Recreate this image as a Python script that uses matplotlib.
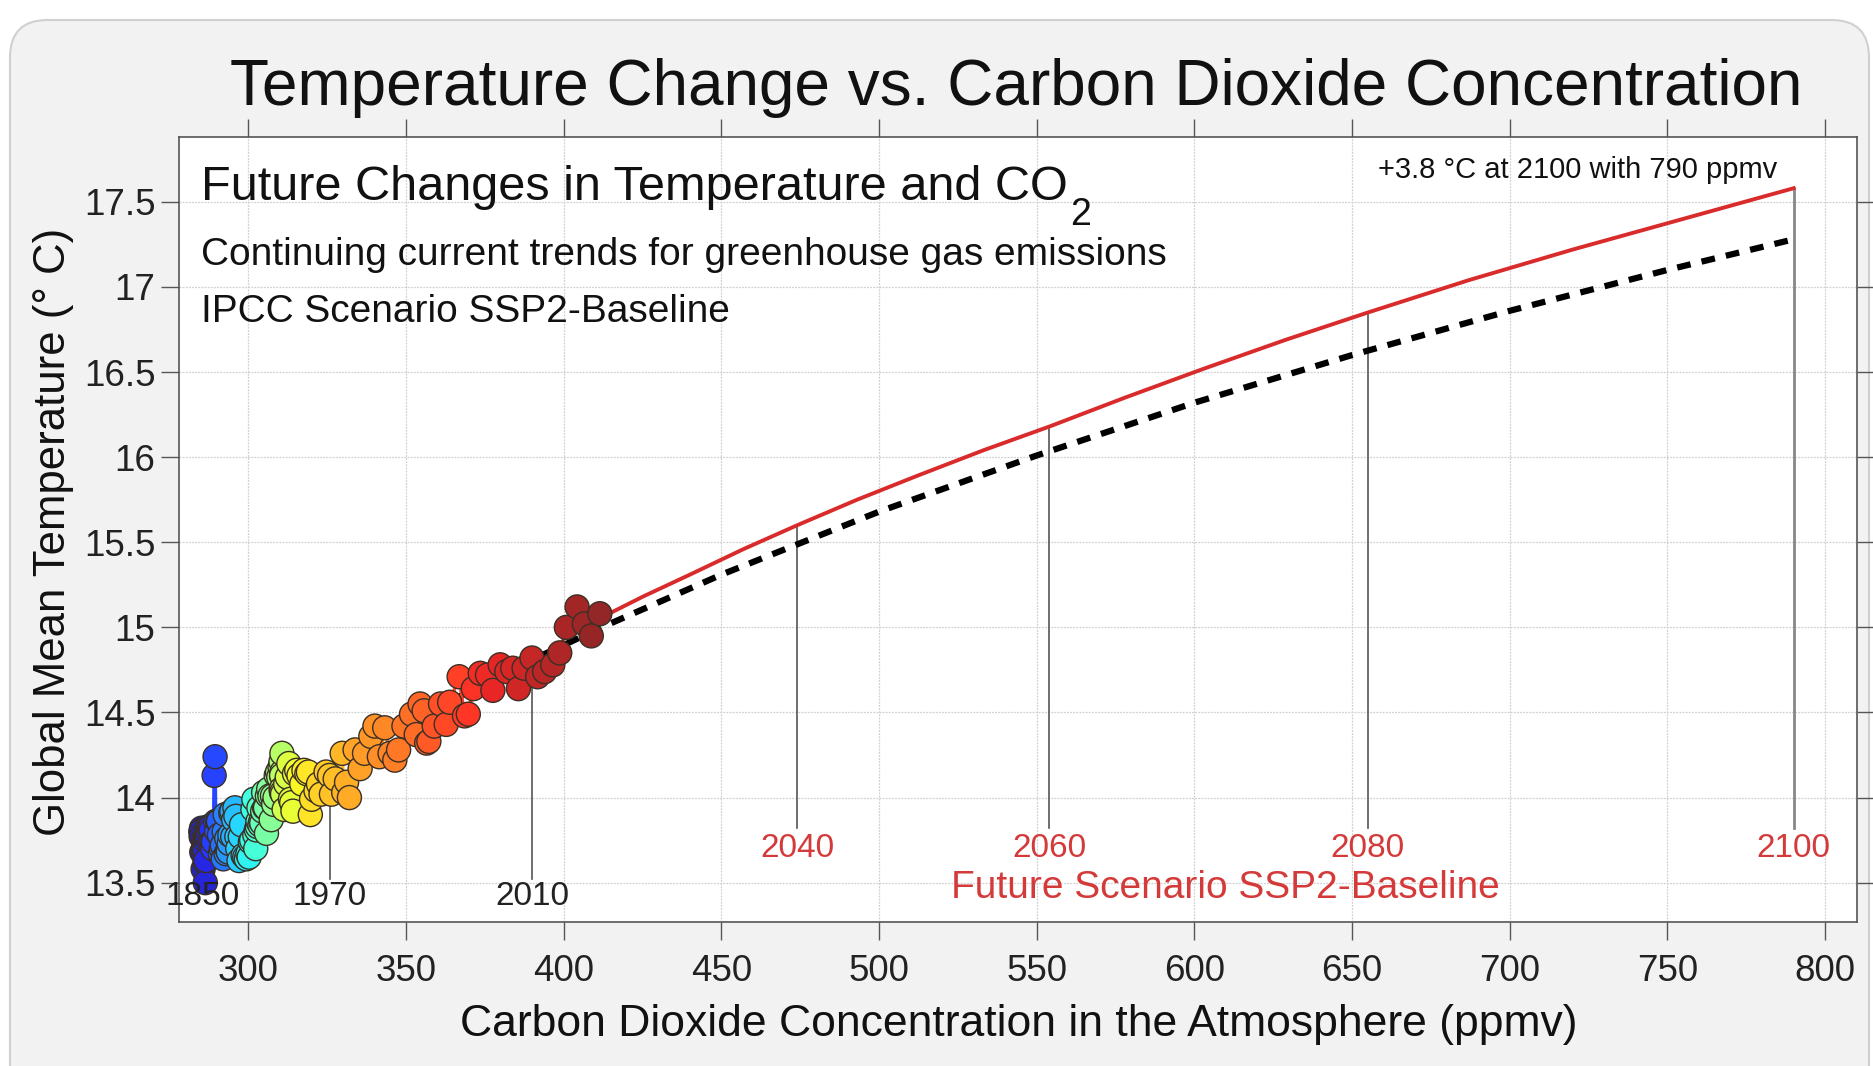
import numpy as np
import matplotlib
matplotlib.use('Agg')
import matplotlib.pyplot as plt
from matplotlib.collections import LineCollection
from matplotlib.patches import FancyBboxPatch

plt.rcParams['font.family'] = ['Liberation Sans', 'DejaVu Sans']

# ---------------- data ----------------
first_year = 1850
co2_hist = [
    285.2, 285.1, 285.0, 285.0, 284.9, 285.1, 285.4, 285.6, 285.8, 285.9,
    286.1, 286.2, 286.3, 286.4, 286.5, 286.6, 286.8, 287.0, 287.2, 287.4,
    287.6, 287.8, 288.0, 288.2, 288.4, 288.7, 288.9, 289.1, 289.4, 289.6,
    289.9, 290.2, 290.5, 290.8, 291.1, 291.4, 291.7, 292.0, 292.3, 292.6,
    292.9, 293.1, 293.4, 293.6, 293.9, 294.1, 294.4, 294.7, 295.0, 295.3,
    295.7, 296.0, 296.3, 296.6, 297.0, 297.4, 297.8, 298.3, 298.8, 299.3,
    299.8, 300.2, 300.6, 301.0, 301.4, 301.7, 302.0, 302.3, 302.5, 302.8,
    303.0, 303.3, 303.6, 303.9, 304.2, 304.5, 304.8, 305.1, 305.4, 305.7,
    306.0, 306.4, 306.8, 307.2, 307.6, 308.0, 308.4, 308.8, 309.2, 309.6,
    310.0, 310.3, 310.5, 310.6, 310.6, 310.5, 310.4, 310.4, 310.5, 310.8,
    311.3, 311.8, 312.3, 312.8, 313.3, 313.7, 314.1, 314.6, 315.3, 316.0,
    316.9, 317.6, 318.5, 319.0, 319.6, 320.0, 321.4, 322.2, 323.0, 324.6,
    325.7, 326.3, 327.5, 329.7, 330.2, 331.1, 332.0, 333.8, 335.4, 336.8,
    338.8, 340.1, 341.5, 343.2, 344.9, 346.4, 347.6, 349.3, 351.7, 353.2,
    354.4, 355.7, 356.5, 357.2, 358.9, 360.9, 362.7, 363.8, 366.8, 368.5,
    369.7, 371.3, 373.5, 375.8, 377.5, 379.8, 381.9, 383.8, 385.6, 387.4,
    389.9, 391.7, 393.9, 396.5, 398.7, 400.8, 404.2, 406.5, 408.7, 411.4,
]
temp_hist = [
    13.68, 13.82, 13.80, 13.77, 13.80, 13.77, 13.68, 13.58, 13.70, 13.76,
    13.69, 13.62, 13.50, 13.75, 13.63, 13.77, 13.81, 13.77, 13.80, 13.83,
    13.82, 13.74, 13.83, 13.81, 13.74, 13.70, 13.74, 14.13, 14.24, 13.86,
    13.80, 13.86, 13.86, 13.78, 13.67, 13.70, 13.72, 13.64, 13.80, 13.90,
    13.67, 13.76, 13.69, 13.68, 13.73, 13.78, 13.91, 13.92, 13.77, 13.87,
    13.94, 13.89, 13.77, 13.70, 13.63, 13.77, 13.84, 13.66, 13.65, 13.64,
    13.67, 13.65, 13.74, 13.75, 13.93, 13.99, 13.78, 13.70, 13.81, 13.83,
    13.86, 13.94, 13.84, 13.86, 13.85, 13.92, 14.03, 13.94, 13.94, 13.79,
    14.01, 14.05, 14.01, 13.87, 14.01, 13.96, 14.00, 14.13, 14.15, 14.12,
    14.18, 14.21, 14.13, 14.15, 14.26, 14.13, 14.04, 14.05, 14.03, 14.02,
    13.93, 14.08, 14.12, 14.20, 13.99, 13.97, 13.92, 14.14, 14.16, 14.13,
    14.08, 14.16, 14.14, 14.15, 13.90, 13.99, 14.04, 14.08, 14.02, 14.15,
    14.13, 14.02, 14.11, 14.26, 14.03, 14.09, 14.00, 14.28, 14.17, 14.26,
    14.36, 14.42, 14.24, 14.41, 14.26, 14.22, 14.28, 14.42, 14.49, 14.37,
    14.55, 14.51, 14.32, 14.33, 14.42, 14.55, 14.43, 14.56, 14.71, 14.48,
    14.49, 14.64, 14.73, 14.72, 14.63, 14.78, 14.74, 14.76, 14.64, 14.76,
    14.82, 14.71, 14.74, 14.78, 14.85, 15.00, 15.12, 15.02, 14.95, 15.08,
]

# log-fit (black dashed)
fit_co2 = [283, 300, 330, 360, 390, 412, 450, 500, 550, 600, 650, 700, 750, 790]
fit_temp = [13.69, 13.89, 14.22, 14.53, 14.81, 15.00, 15.31, 15.68, 16.01,
            16.32, 16.60, 16.86, 17.10, 17.28]

# future scenario SSP2-Baseline (red line)
ssp_co2 = [410, 425, 440, 457, 474, 493, 512, 533, 554, 578, 603, 629, 655,
           687, 720, 755, 790]
ssp_temp = [15.04, 15.18, 15.31, 15.46, 15.60, 15.75, 15.89, 16.04, 16.18,
            16.35, 16.52, 16.69, 16.85, 17.04, 17.22, 17.40, 17.58]

# labelled future years and where they sit on the red curve
future_marks = [2040, 2060, 2080, 2100]
future_mark_co2 = [474, 554, 655, 790]
future_mark_temp = [15.60, 16.18, 16.85, 17.58]
hist_marks = [1850, 1970, 2010]

xticks = [300, 350, 400, 450, 500, 550, 600, 650, 700, 750, 800]
yticks = [13.5, 14, 14.5, 15, 15.5, 16, 16.5, 17, 17.5]
ytick_labels = ['13.5', '14', '14.5', '15', '15.5', '16', '16.5', '17', '17.5']

title = 'Temperature Change vs. Carbon Dioxide Concentration'
xlabel = 'Carbon Dioxide Concentration in the Atmosphere (ppmv)'
ylabel = 'Global Mean Temperature (° C)'
head1 = 'Future Changes in Temperature and CO'
head1_sub = '2'
head2 = 'Continuing current trends for greenhouse gas emissions'
head3 = 'IPCC Scenario SSP2-Baseline'
end_note = '+3.8 °C at 2100 with 790 ppmv'
scen_label = 'Future Scenario SSP2-Baseline'

# ---------------- figure ----------------
W, H = 1873, 1066
fig = plt.figure(figsize=(W / 100, H / 100), dpi=100)
fig.patch.set_facecolor('white')
card = FancyBboxPatch((10 / W, -40 / H), (W - 14) / W, (H + 30 - 10) / H,
                      boxstyle='round,pad=0,rounding_size=0.02',
                      transform=fig.transFigure, facecolor='#f2f2f2',
                      edgecolor='#d0d0d0', linewidth=1.5, zorder=-10,
                      mutation_aspect=W / H)
fig.patches.append(card)

ax = fig.add_axes([179 / W, (H - 922) / H, (1857 - 179) / W, (922 - 137) / H])
ax.set_facecolor('white')
ax.set_xlim(277.96, 810.1)
ax.set_ylim(13.269, 17.881)

ax.set_xticks(xticks)
ax.set_yticks(yticks)
ax.set_yticklabels(ytick_labels)
ax.tick_params(axis='both', which='both', direction='out', top=True, right=True,
               length=13, width=1.0, color='#555555', labelsize=26.5,
               labelcolor='#222222')
ax.tick_params(axis='x', pad=10)
ax.tick_params(axis='y', pad=4)
for sp in ax.spines.values():
    sp.set_color('#555555')
    sp.set_linewidth(1.2)
ax.grid(True, color='#d0d0d0', linestyle=(0, (1.5, 1.0)), linewidth=0.9)
ax.set_axisbelow(True)

# vertical marker lines (future)
for yr, cx, ty in zip(future_marks, future_mark_co2, future_mark_temp):
    lw = 2.0 if yr == 2100 else 1.2
    col = '#888888' if yr == 2100 else '#555555'
    ax.plot([cx, cx], [13.82, ty], color=col, lw=lw, zorder=2)
    ax.text(cx, 13.70, str(yr), color='#d43a3a', fontsize=24,
            ha='center', va='center', zorder=6)

# vertical marker lines (historical)
for yr in hist_marks:
    i = yr - first_year
    if yr != 1850:
        ax.plot([co2_hist[i], co2_hist[i]], [13.52, temp_hist[i]],
                color='#555555', lw=1.2, zorder=2)
    ax.text(co2_hist[i] + (0.4 if yr == 1850 else 0), 13.42, str(yr),
            color='#222222', fontsize=24, ha='center', va='center', zorder=7)

# fitted dashed line
dl, = ax.plot(fit_co2, fit_temp, color='black', lw=4.5, zorder=3,
              solid_capstyle='butt', dash_capstyle='butt')
dl.set_dashes([2.2, 1.8])

# future red line
ax.plot(ssp_co2, ssp_temp, color='#d92b2b', lw=2.8, zorder=4)

# historical points
n = len(co2_hist)
cols = plt.cm.jet(np.linspace(0, 1, n))
soft = cols.copy()
soft[:, :3] = cols[:, :3] * 0.85 + 0.15
pts = np.column_stack([co2_hist, temp_hist])
segs = [pts[k:k + 2] for k in range(n - 1)]
lc = LineCollection(segs, colors=soft[:-1], linewidths=2.5, zorder=4.5)
ax.add_collection(lc)
ax.scatter(co2_hist, temp_hist, s=300, c=soft, edgecolors='#3a3026',
           linewidths=1.0, zorder=5)

# texts
t1 = ax.text(0.0129, 0.920, head1, transform=ax.transAxes, fontsize=35,
             ha='left', va='baseline', color='#111111', zorder=8)
ax.text(0.0129, 0.837, head2, transform=ax.transAxes, fontsize=28,
        ha='left', va='baseline', color='#111111', zorder=8)
ax.text(0.0129, 0.764, head3, transform=ax.transAxes, fontsize=28,
        ha='left', va='baseline', color='#111111', zorder=8)
ax.text(784.8, 17.64, end_note, fontsize=21, ha='right', va='baseline',
        color='#111111', zorder=8)
ax.text(609.9, 13.47, scen_label, fontsize=28, ha='center', va='center',
        color='#d43a3a', zorder=8)

fig.text(0.5428, 0.9015, title, fontsize=46, ha='center', va='baseline',
         color='#111111')
fig.text(0.5437, 0.0385, xlabel, fontsize=32, ha='center', va='center',
         color='#111111')
fig.text(0.0288, 0.5014, ylabel, fontsize=31.5, ha='center', va='center',
         rotation=90, color='#111111')

# subscript "2" placed after the heading text
fig.canvas.draw()
bb = t1.get_window_extent(fig.canvas.get_renderer())
base_y = ax.transAxes.transform((0, 0.920))[1]
fig.text((bb.x1 + 3) / W, (base_y - 25) / H, head1_sub, fontsize=27,
         ha='left', va='baseline', color='#111111')

fig.savefig('out.png', dpi=100, facecolor=fig.get_facecolor())
